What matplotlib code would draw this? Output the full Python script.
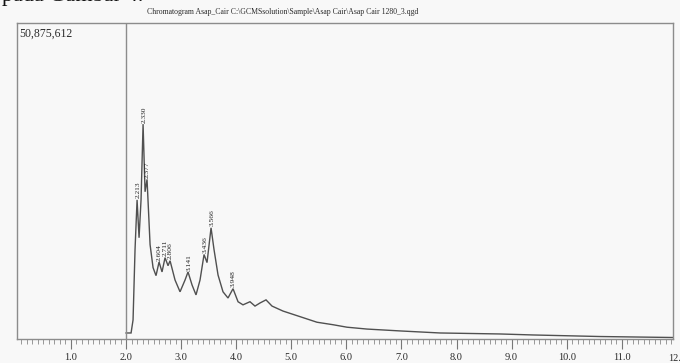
import numpy as np
import matplotlib
matplotlib.use("Agg")
import matplotlib.pyplot as plt
import matplotlib.transforms as mtransforms
from matplotlib.ticker import MultipleLocator, FormatStrFormatter

# ---- data ----
title = "Chromatogram Asap_Cair C:\\GCMSsolution\\Sample\\Asap Cair\\Asap Cair 1280_3.qgd"
max_intensity = 50875612
max_label = "50,875,612"

# retention time (min)
rt = [2.000, 2.091, 2.127, 2.163, 2.200, 2.236, 2.272, 2.309, 2.345, 2.381,
      2.436, 2.490, 2.544, 2.599, 2.653, 2.708, 2.762, 2.799, 2.889, 2.980,
      3.071, 3.125, 3.198, 3.270, 3.343, 3.416, 3.470, 3.543, 3.597, 3.670,
      3.760, 3.851, 3.942, 4.033, 4.123, 4.250, 4.341, 4.432, 4.541, 4.650,
      4.849, 5.158, 5.466, 5.757, 6.011, 6.374, 6.973, 7.699, 8.788, 9.387,
      10.60, 11.93]
# total ion intensity (millions of counts)
tic_m = [0.97, 0.97, 3.07, 14.4, 22.4, 16.3, 22.4, 34.6, 23.7, 25.7,
         15.2, 11.5, 10.2, 12.4, 10.8, 13.1, 11.8, 12.6, 9.5, 7.6,
         9.5, 10.8, 8.7, 7.1, 9.5, 13.6, 12.3, 17.9, 14.4, 10.3,
         7.6, 6.6, 8.1, 6.0, 5.5, 6.0, 5.3, 5.8, 6.3, 5.3,
         4.5, 3.6, 2.7, 2.3, 1.9, 1.6, 1.3, 0.97, 0.81, 0.65,
         0.40, 0.24]

peak_rt = [2.213, 2.330, 2.377, 2.604, 2.711, 2.806, 3.141, 3.436, 3.566, 3.948]
peak_labels = ["2.213", "2.330", "2.377", "2.604", "2.711", "2.806",
               "3.141", "3.436", "3.566", "3.948"]

x_ticks = [1.0, 2.0, 3.0, 4.0, 5.0, 6.0, 7.0, 8.0, 9.0, 10.0, 11.0, 12.0]
start_rt = 2.0

# ---- figure ----
W, H = 680, 363
fig = plt.figure(figsize=(W / 100, H / 100), dpi=100, facecolor="#f8f8f8")
ax = fig.add_axes([17 / W, 1 - 339 / H, (673 - 17) / W, (339 - 23) / H])
ax.set_facecolor("#f8f8f8")

rt_a = np.array(rt)
tic = np.array(tic_m) * 1e6
line_col = "#505050"
frame_col = "#8c8c8c"

ax.plot(rt_a, tic, color=line_col, lw=1.0, solid_joinstyle="miter")
ax.axvline(start_rt, color=frame_col, lw=1.0)

ax.set_xlim(0.02, 11.93)
ax.set_ylim(0, max_intensity)

for s in ax.spines.values():
    s.set_color(frame_col)
    s.set_linewidth(1.0)

ax.set_xticks(x_ticks[:-1])
ax.xaxis.set_minor_locator(MultipleLocator(0.1))
ax.xaxis.set_major_formatter(FormatStrFormatter("%.1f"))
ax.tick_params(axis="x", which="major", direction="out", length=7, width=0.8,
               color="#777777", labelsize=7.5, labelcolor="#2a2a2a", pad=3)
ax.tick_params(axis="x", which="minor", direction="out", length=3.5, width=0.6,
               color="#888888")
for lab in ax.get_xticklabels():
    lab.set_family("Liberation Serif")
ax.set_yticks([])

# partially visible last tick label at the right edge
trans = mtransforms.blended_transform_factory(ax.transData, ax.transAxes)
ax.text(x_ticks[-1], -0.048, "%.1f" % x_ticks[-1], transform=trans, ha="center",
        va="top", fontsize=7.5, family="Liberation Serif", color="#2a2a2a",
        clip_on=False)

# peak labels
for prt, lab in zip(peak_rt, peak_labels):
    m = (rt_a >= prt - 0.03) & (rt_a <= prt + 0.03)
    h = tic[m].max() if m.any() else np.interp(prt, rt_a, tic)
    ax.annotate(lab, (prt, h), xytext=(0, 1), textcoords="offset points",
                rotation=90, ha="center", va="bottom", fontsize=5.4,
                family="Liberation Serif", color="#222222")

# intensity label and title
ax.text(0.004, 0.985, max_label, transform=ax.transAxes, ha="left", va="top",
        fontsize=8.5, family="Liberation Serif", color="#2a2a2a")
fig.text(283 / W, 1 - 12 / H, title, ha="center", va="center",
         fontsize=5.6, family="Liberation Serif", color="#2a2a2a")

# cut-off text from the document above the figure
fig.text(2 / W, 1 - 1 / H, "pada Gambar 4.", ha="left", va="baseline",
         fontsize=16, family="Liberation Serif", color="#111111")

fig.savefig("out.png", dpi=100, facecolor=fig.get_facecolor())
